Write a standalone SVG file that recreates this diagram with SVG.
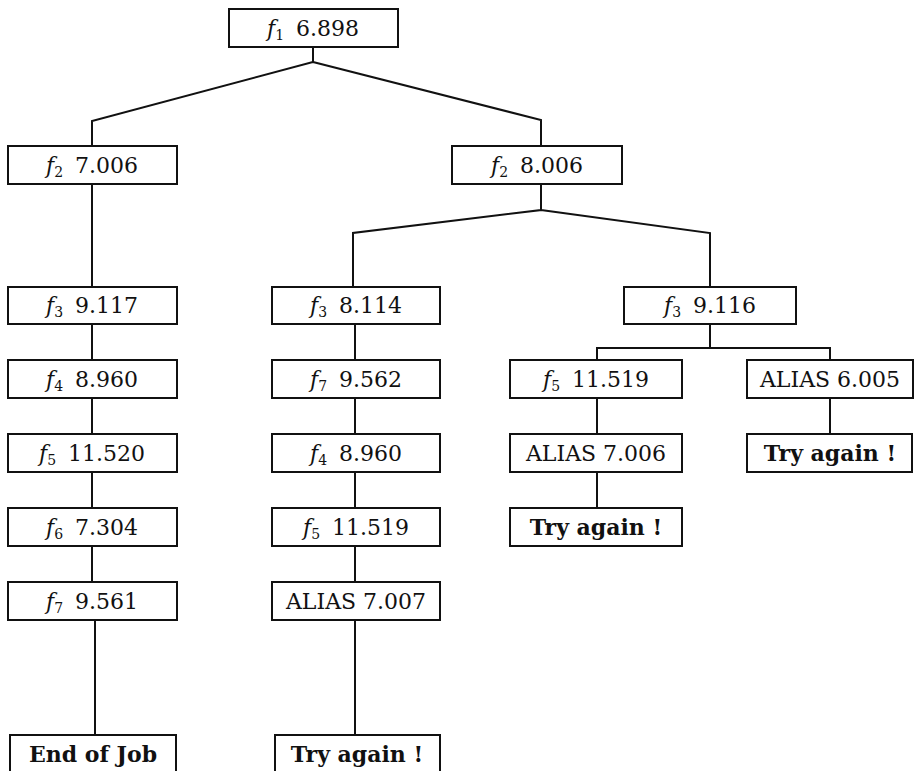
<svg xmlns="http://www.w3.org/2000/svg" width="915" height="771" viewBox="0 0 915 771">
<style>
.b{fill:#fff;stroke:#111;stroke-width:2}
.t{font-family:"DejaVu Serif","Liberation Serif",serif;font-size:22px;fill:#111;text-anchor:middle}
.bt{font-family:"DejaVu Serif","Liberation Serif",serif;font-size:22px;font-weight:bold;fill:#111;text-anchor:middle}
.i{font-style:italic}
.s{font-size:14px}
#conn path{fill:none;stroke:#111;stroke-width:2}
</style>
<rect width="915" height="771" fill="#fff"/>
<g id="conn">
<path d="M313 47V62L92 121V146M313 62L541 120V146"/>
<path d="M541 184V210L353 233V287M541 210L710 233V287"/>
<path d="M92 184V287M92 324V360M92 398V434M92 472V508M92 546V582M95 620V735"/>
<path d="M355 324V360M355 398V434M355 472V508M355 546V582M355 620V735"/>
<path d="M710 324V348M597 360V348H830V360"/>
<path d="M597 398V434M597 472V508M830 398V434"/>
</g>
<g id="n1"><rect class="b" x="229" y="9" width="169" height="38"/><text class="t" x="313" y="36"><tspan class="i">f</tspan><tspan class="s" dy="4">1</tspan><tspan dx="12" dy="-4">6.898</tspan></text></g>
<g id="n2"><rect class="b" x="8" y="146" width="169" height="38"/><text class="t" x="92" y="173"><tspan class="i">f</tspan><tspan class="s" dy="4">2</tspan><tspan dx="12" dy="-4">7.006</tspan></text></g>
<g id="n3"><rect class="b" x="452" y="146" width="170" height="38"/><text class="t" x="537" y="173"><tspan class="i">f</tspan><tspan class="s" dy="4">2</tspan><tspan dx="12" dy="-4">8.006</tspan></text></g>
<g id="n4"><rect class="b" x="8" y="287" width="169" height="37"/><text class="t" x="92" y="313"><tspan class="i">f</tspan><tspan class="s" dy="4">3</tspan><tspan dx="12" dy="-4">9.117</tspan></text></g>
<g id="n5"><rect class="b" x="8" y="360" width="169" height="38"/><text class="t" x="92" y="387"><tspan class="i">f</tspan><tspan class="s" dy="4">4</tspan><tspan dx="12" dy="-4">8.960</tspan></text></g>
<g id="n6"><rect class="b" x="8" y="434" width="169" height="38"/><text class="t" x="92" y="461"><tspan class="i">f</tspan><tspan class="s" dy="4">5</tspan><tspan dx="12" dy="-4">11.520</tspan></text></g>
<g id="n7"><rect class="b" x="8" y="508" width="169" height="38"/><text class="t" x="92" y="535"><tspan class="i">f</tspan><tspan class="s" dy="4">6</tspan><tspan dx="12" dy="-4">7.304</tspan></text></g>
<g id="n8"><rect class="b" x="8" y="582" width="169" height="38"/><text class="t" x="92" y="609"><tspan class="i">f</tspan><tspan class="s" dy="4">7</tspan><tspan dx="12" dy="-4">9.561</tspan></text></g>
<g id="n9"><rect class="b" x="10" y="735" width="166" height="40"/><text class="bt" x="93" y="762">End of Job</text></g>
<g id="n10"><rect class="b" x="272" y="287" width="168" height="37"/><text class="t" x="356" y="313"><tspan class="i">f</tspan><tspan class="s" dy="4">3</tspan><tspan dx="12" dy="-4">8.114</tspan></text></g>
<g id="n11"><rect class="b" x="272" y="360" width="168" height="38"/><text class="t" x="356" y="387"><tspan class="i">f</tspan><tspan class="s" dy="4">7</tspan><tspan dx="12" dy="-4">9.562</tspan></text></g>
<g id="n12"><rect class="b" x="272" y="434" width="168" height="38"/><text class="t" x="356" y="461"><tspan class="i">f</tspan><tspan class="s" dy="4">4</tspan><tspan dx="12" dy="-4">8.960</tspan></text></g>
<g id="n13"><rect class="b" x="272" y="508" width="168" height="38"/><text class="t" x="356" y="535"><tspan class="i">f</tspan><tspan class="s" dy="4">5</tspan><tspan dx="12" dy="-4">11.519</tspan></text></g>
<g id="n14"><rect class="b" x="272" y="582" width="168" height="38"/><text class="t" x="356" y="609">ALIAS 7.007</text></g>
<g id="n15"><rect class="b" x="275" y="735" width="165" height="40"/><text class="bt" x="357" y="762">Try again !</text></g>
<g id="n16"><rect class="b" x="624" y="287" width="172" height="37"/><text class="t" x="710" y="313"><tspan class="i">f</tspan><tspan class="s" dy="4">3</tspan><tspan dx="12" dy="-4">9.116</tspan></text></g>
<g id="n17"><rect class="b" x="510" y="360" width="172" height="38"/><text class="t" x="596" y="387"><tspan class="i">f</tspan><tspan class="s" dy="4">5</tspan><tspan dx="12" dy="-4">11.519</tspan></text></g>
<g id="n18"><rect class="b" x="747" y="360" width="166" height="38"/><text class="t" x="830" y="387">ALIAS 6.005</text></g>
<g id="n19"><rect class="b" x="510" y="434" width="172" height="38"/><text class="t" x="596" y="461">ALIAS 7.006</text></g>
<g id="n20"><rect class="b" x="747" y="434" width="165" height="38"/><text class="bt" x="830" y="461">Try again !</text></g>
<g id="n21"><rect class="b" x="510" y="508" width="172" height="38"/><text class="bt" x="596" y="535">Try again !</text></g>
</svg>
